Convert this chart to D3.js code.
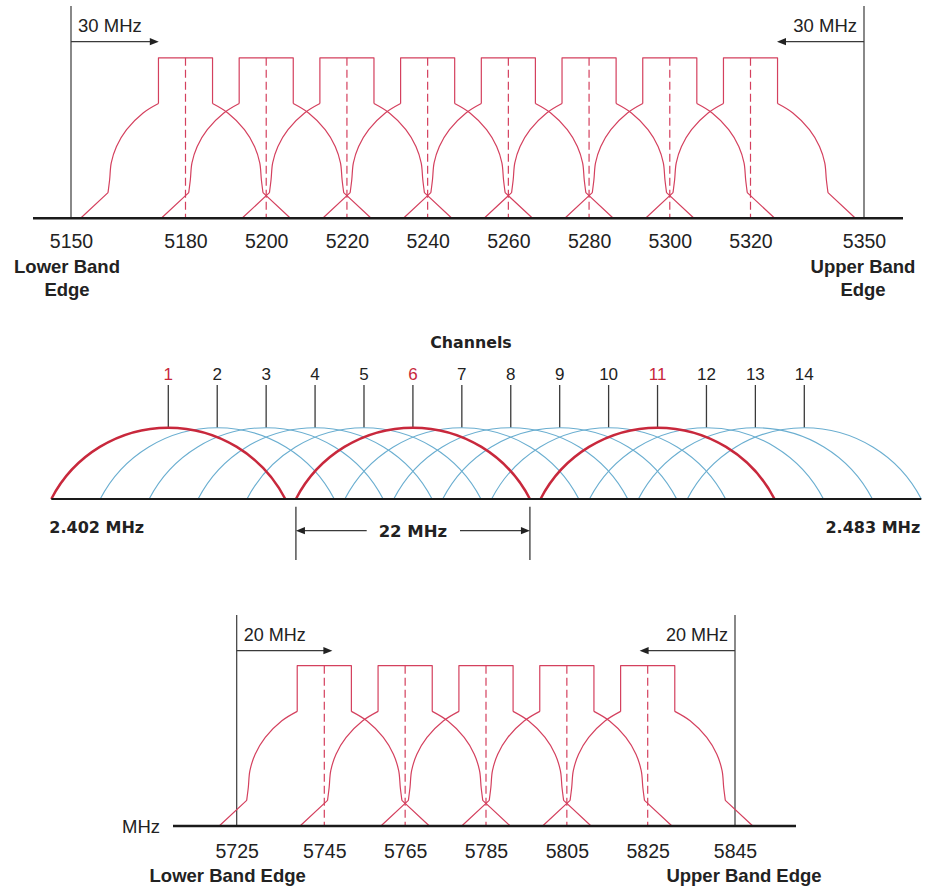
<!DOCTYPE html>
<html><head><meta charset="utf-8">
<script src="https://cdn.jsdelivr.net/npm/d3@7"></script>
<style>body{margin:0;background:#fff}svg{display:block}</style>
</head><body>
<svg id="c" width="925" height="893"></svg>
<script>
// ---------------- DATA ----------------
// 5 GHz UNII-1/2 band (top)
const unii12Channels = [5180, 5200, 5220, 5240, 5260, 5280, 5300, 5320];
const unii12Edges = [5150, 5350];
const unii12Ticks = [5150, 5180, 5200, 5220, 5240, 5260, 5280, 5300, 5320, 5350];
const unii12Arrows = [[5150, 5173], [5350, 5327]];
const unii12ArrowLabel = "30 MHz";
const unii12EdgeLabels = [["Lower Band", "Edge"], ["Upper Band", "Edge"]];

// 5 GHz UNII-3 band (bottom)
const unii3Channels = [5745, 5765, 5785, 5805, 5825];
const unii3Edges = [5725, 5845];
const unii3Ticks = [5725, 5745, 5765, 5785, 5805, 5825, 5845];
const unii3Arrows = [[5725, 5747], [5845, 5823]];
const unii3ArrowLabel = "20 MHz";
const unii3EdgeLabels = [["Lower Band Edge"], ["Upper Band Edge"]];

// transmit spectrum mask: left flank, offset from centre (MHz) and level (dB), bottom -> top
const maskFlankOffset = [-26, -19.2, -18.8, -18.4, -17.1, -14.6, -10.5, -6.7];
const maskFlankLevel  = [-40, -33.6, -30.4, -26.2, -22.1, -17.9, -13.75, -11.4];
const maskTopHalfWidth = 6.7;
const maskTopLevel = 0;

// 2.4 GHz band (middle)
const bgChannels = [1, 2, 3, 4, 5, 6, 7, 8, 9, 10, 11, 12, 13, 14];
const bgNonOverlapping = [1, 6, 11];
const bgChannelWidthMHz = 22;
const bgEdgeLabels = ["2.402 MHz", "2.483 MHz"];
const bgTitle = "Channels";
const bgWidthLabel = "22 MHz";

// ---------------- DRAWING ----------------
const svg = d3.select("#c");
const RED = "#d4405e", RED2 = "#c8283c", BLUE = "#6aaed0", INK = "#222", GREY = "#3a3a3a";
const SANS = "'Liberation Sans', Arial, Helvetica, sans-serif";
const WIDE = "'DejaVu Sans', Verdana, sans-serif";

function arrowHead(g, x, y, dir) {
  const L = 9, H = 3.6;
  g.append("path")
    .attr("d", `M${x},${y}L${x - dir * L},${y - H}L${x - dir * L},${y + H}Z`)
    .attr("fill", INK);
}

function drawBand(o) {
  const g = svg.append("g");
  const x = o.x, y = o.y;
  const spacing = x(o.channels[1]) - x(o.channels[0]);
  const bw = d3.scaleLinear().domain([0, o.channels[1] - o.channels[0]]).range([0, spacing]);
  const axisY = y(-40);

  // edges
  o.edges.forEach(e => {
    g.append("line").attr("x1", x(e)).attr("x2", x(e)).attr("y1", o.edgeTop).attr("y2", axisY)
      .attr("stroke", GREY).attr("stroke-width", 1.2);
  });

  // masks
  const lin = d3.line().x(d => d[0]).y(d => d[1]);
  const crv = d3.line().x(d => d[0]).y(d => d[1]).curve(d3.curveCatmullRom.alpha(0.5));
  o.channels.forEach(c => {
    const cx = x(c);
    const L = maskFlankOffset.map((off, i) => [cx + bw(off), y(maskFlankLevel[i])]);
    const R = maskFlankOffset.map((off, i) => [cx - bw(off), y(maskFlankLevel[i])]).reverse();
    const n = L.length;
    const top = [
      [cx - bw(maskTopHalfWidth), y(maskFlankLevel[n - 1])],
      [cx - bw(maskTopHalfWidth), y(maskTopLevel)],
      [cx + bw(maskTopHalfWidth), y(maskTopLevel)],
      [cx + bw(maskTopHalfWidth), y(maskFlankLevel[n - 1])]
    ];
    const d = lin(L.slice(0, 2)) + crv(L.slice(1)) + lin(top) + crv(R.slice(0, n - 1)) + lin(R.slice(n - 2));
    g.append("path").attr("d", d).attr("fill", "none").attr("stroke", RED)
      .attr("stroke-width", 1.2).attr("stroke-linejoin", "round");
    g.append("line").attr("x1", cx).attr("x2", cx).attr("y1", y(maskTopLevel)).attr("y2", axisY)
      .attr("stroke", RED).attr("stroke-width", 1.2).attr("stroke-dasharray", "8,4");
  });

  // baseline
  g.append("line").attr("x1", o.axisExtent[0]).attr("x2", o.axisExtent[1])
    .attr("y1", axisY).attr("y2", axisY).attr("stroke", "#1a1a1a").attr("stroke-width", 2.4);

  // tick labels via axis
  const ax = g.append("g").attr("transform", `translate(0,${axisY})`)
    .call(d3.axisBottom(x).tickValues(o.ticks).tickSize(0).tickFormat(d3.format("d")));
  ax.select(".domain").remove();
  ax.selectAll("text").attr("y", o.tickBaseline - axisY).attr("dy", null)
    .attr("font-family", SANS).attr("font-size", 19.5).attr("fill", INK);

  // arrows
  o.arrows.forEach(([a, b], i) => {
    const dir = b > a ? 1 : -1;
    g.append("line").attr("x1", x(a)).attr("x2", x(b) - dir * 6).attr("y1", o.arrowY).attr("y2", o.arrowY)
      .attr("stroke", GREY).attr("stroke-width", 1.3);
    arrowHead(g, x(b), o.arrowY, dir);
    g.append("text").attr("x", x(a) + dir * 7).attr("y", o.arrowLabelY)
      .attr("text-anchor", dir > 0 ? "start" : "end")
      .attr("font-family", SANS).attr("font-size", o.arrowFont).attr("fill", INK).text(o.arrowLabel);
  });

  // edge labels
  o.edgeLabels.forEach((lines, i) => {
    const t = g.append("text").attr("text-anchor", "middle")
      .attr("font-family", SANS).attr("font-weight", "bold").attr("font-size", 18.5).attr("fill", INK);
    lines.forEach((s, k) => {
      t.append("tspan").attr("x", x(o.edges[i]) + o.edgeLabelShift[i]).attr("y", o.edgeLabelY + k * 23).text(s);
    });
  });

  if (o.unit) {
    g.append("text").attr("x", o.axisExtent[0] - 13).attr("y", axisY + 7).attr("text-anchor", "end")
      .attr("font-family", SANS).attr("font-size", 18.5).attr("fill", INK).text(o.unit);
  }
}

// top band
drawBand({
  channels: unii12Channels, edges: unii12Edges, ticks: unii12Ticks, arrows: unii12Arrows,
  arrowLabel: unii12ArrowLabel, edgeLabels: unii12EdgeLabels,
  x: d3.scaleLinear().domain([5150, 5180, 5320, 5350]).range([71, 185.5, 750.5, 864]),
  y: d3.scaleLinear().domain([-40, 0]).range([218.3, 57.8]),
  edgeTop: 6, arrowY: 41.7, arrowLabelY: 31.5, arrowFont: 18.5,
  axisExtent: [33, 903], tickBaseline: 248,
  edgeLabelY: 273, edgeLabelShift: [-4, -1]
});

// bottom band
drawBand({
  channels: unii3Channels, edges: unii3Edges, ticks: unii3Ticks, arrows: unii3Arrows,
  arrowLabel: unii3ArrowLabel, edgeLabels: unii3EdgeLabels,
  x: d3.scaleLinear().domain([5725, 5745, 5825, 5845]).range([236.7, 324.3, 647.7, 735]),
  y: d3.scaleLinear().domain([-40, 0]).range([826, 665.7]),
  edgeTop: 615, arrowY: 650.7, arrowLabelY: 640.5, arrowFont: 18,
  axisExtent: [173, 796], tickBaseline: 858,
  edgeLabelY: 881.5, edgeLabelShift: [-9, 9], unit: "MHz"
});

// middle 2.4 GHz band
(function () {
  const g = svg.append("g");
  const x = d3.scaleLinear().domain([1, 14]).range([168.3, 804.3]);
  const w = d3.scaleLinear().domain([0, bgChannelWidthMHz]).range([0, 234]);
  const axisY = 499, h = 71.3;
  const hw = w(bgChannelWidthMHz / 2);
  const r = (hw * hw + h * h) / (2 * h);
  const dcen = r - h;
  const arcPath = c => {
    const p = d3.path();
    const cx = x(c), cy = axisY + dcen;
    p.moveTo(cx - hw, axisY);
    p.arc(cx, cy, r, Math.atan2(-dcen, -hw), Math.atan2(-dcen, hw), false);
    return p.toString();
  };
  const isRed = c => bgNonOverlapping.includes(c);
  const order = bgChannels.filter(c => !isRed(c)).concat(bgChannels.filter(isRed));

  // ticks from labels to arc tops
  g.selectAll("line.tk").data(bgChannels).join("line")
    .attr("x1", d => x(d)).attr("x2", d => x(d)).attr("y1", 385).attr("y2", axisY - h)
    .attr("stroke", GREY).attr("stroke-width", 1.3);

  g.selectAll("path.arc").data(order).join("path")
    .attr("d", arcPath).attr("fill", "none")
    .attr("stroke", d => isRed(d) ? RED2 : BLUE)
    .attr("stroke-width", d => isRed(d) ? 2.5 : 1.1);

  // baseline
  g.append("line").attr("x1", x(1) - hw).attr("x2", x(14) + hw).attr("y1", axisY).attr("y2", axisY)
    .attr("stroke", "#1a1a1a").attr("stroke-width", 2.2);

  // channel labels
  g.selectAll("text.ch").data(bgChannels).join("text")
    .attr("x", d => x(d)).attr("y", 380).attr("text-anchor", "middle")
    .attr("font-family", SANS).attr("font-size", 17).attr("fill", d => isRed(d) ? RED2 : INK).text(d => d);

  g.append("text").attr("x", 471).attr("y", 348).attr("text-anchor", "middle")
    .attr("font-family", WIDE).attr("font-weight", "bold").attr("font-size", 15.8).attr("fill", INK).text(bgTitle);

  g.append("text").attr("x", x(1) - hw - 2).attr("y", 533).attr("text-anchor", "start")
    .attr("font-family", WIDE).attr("font-weight", "bold").attr("font-size", 16).attr("fill", INK).text(bgEdgeLabels[0]);
  g.append("text").attr("x", x(14) + hw - 1).attr("y", 533).attr("text-anchor", "end")
    .attr("font-family", WIDE).attr("font-weight", "bold").attr("font-size", 16).attr("fill", INK).text(bgEdgeLabels[1]);

  // 22 MHz dimension on channel 6
  const a = x(6) - hw, b = x(6) + hw, ay = 530.7;
  [a, b].forEach(v => g.append("line").attr("x1", v).attr("x2", v).attr("y1", 506.7).attr("y2", 560)
    .attr("stroke", GREY).attr("stroke-width", 1.3));
  g.append("line").attr("x1", a + 6).attr("x2", 366.7).attr("y1", ay).attr("y2", ay).attr("stroke", GREY).attr("stroke-width", 1.3);
  g.append("line").attr("x1", 460).attr("x2", b - 6).attr("y1", ay).attr("y2", ay).attr("stroke", GREY).attr("stroke-width", 1.3);
  arrowHead(g, a, ay, -1);
  arrowHead(g, b, ay, 1);
  g.append("text").attr("x", (a + b) / 2).attr("y", 536.7).attr("text-anchor", "middle")
    .attr("font-family", WIDE).attr("font-weight", "bold").attr("font-size", 16.5).attr("fill", INK).text(bgWidthLabel);
})();
</script>
</body></html>
